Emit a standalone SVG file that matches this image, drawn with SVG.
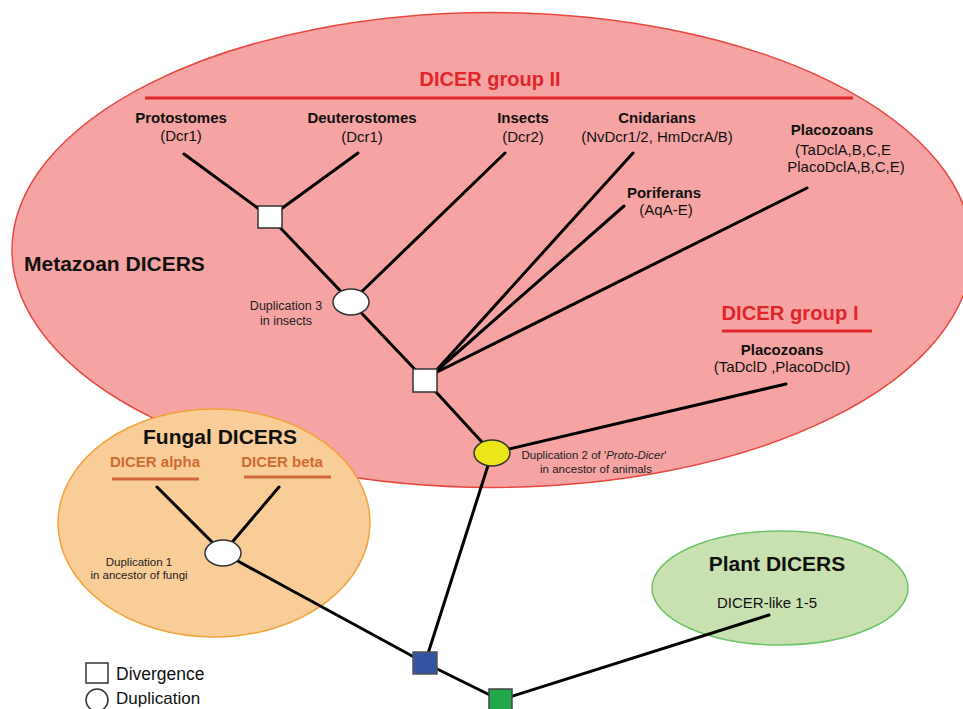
<svg xmlns="http://www.w3.org/2000/svg" width="963" height="709" viewBox="0 0 963 709">
<style>
text{font-family:"Liberation Sans",Arial,sans-serif;fill:#111}
.b{font-weight:bold}
.lbl{font-size:15px;text-anchor:middle}
.sm{font-size:11.5px;fill:#222}
.red{fill:#e0252b;font-weight:bold}
.or{fill:#cf6a34;font-weight:bold;font-size:15px;text-anchor:middle}
.edge{stroke:#000;stroke-width:3;fill:none;stroke-linecap:round}
.div{fill:#fff;stroke:#333;stroke-width:1.5}
.dup{fill:#fff;stroke:#333;stroke-width:1.5}
</style>
<rect width="963" height="709" fill="#fff"/>
<g id="metazoan-region">
<ellipse cx="492" cy="250" rx="480" ry="237.5" fill="#f5a4a3" stroke="#e8473f" stroke-width="1.5"/>
<text x="24" y="271" class="b" font-size="21">Metazoan DICERS</text>
<text x="490" y="86" class="red" font-size="20" text-anchor="middle">DICER group II</text>
<line x1="145" y1="98" x2="853" y2="98" stroke="#e0252b" stroke-width="3"/>
<text x="790" y="320" class="red" font-size="21" text-anchor="middle" textLength="137" lengthAdjust="spacingAndGlyphs">DICER group I</text>
<line x1="722" y1="331" x2="872" y2="331" stroke="#e0252b" stroke-width="3"/>
</g>
<g id="fungal-region">
<ellipse cx="214" cy="523" rx="156" ry="114" fill="#f9cd98" stroke="#f2a23a" stroke-width="1.5"/>
<text x="220" y="444" class="b" font-size="21" text-anchor="middle">Fungal DICERS</text>
<text x="155" y="467" class="or">DICER alpha</text>
<line x1="112" y1="479" x2="199" y2="479" stroke="#d0693a" stroke-width="3"/>
<text x="282" y="467" class="or">DICER beta</text>
<line x1="244" y1="477" x2="331" y2="477" stroke="#d0693a" stroke-width="3"/>
</g>
<g id="plant-region">
<ellipse cx="780" cy="588" rx="128" ry="57" fill="#c9e0b0" stroke="#6cc36a" stroke-width="1.5"/>
<text x="777" y="571" class="b" font-size="21" text-anchor="middle">Plant DICERS</text>
<text x="767" y="608" class="lbl">DICER-like 1-5</text>
</g>
<g id="leaf-labels">
<text x="181" y="123" class="lbl b">Protostomes</text>
<text x="181" y="141" class="lbl">(Dcr1)</text>
<text x="362" y="123" class="lbl b">Deuterostomes</text>
<text x="362" y="142" class="lbl">(Dcr1)</text>
<text x="523" y="123" class="lbl b">Insects</text>
<text x="523" y="142" class="lbl">(Dcr2)</text>
<text x="657" y="123" class="lbl b">Cnidarians</text>
<text x="657" y="142" class="lbl">(NvDcr1/2, HmDcrA/B)</text>
<text x="832" y="135" class="lbl b">Placozoans</text>
<text x="843" y="155" class="lbl">(TaDclA,B,C,E</text>
<text x="846" y="172" class="lbl">PlacoDclA,B,C,E)</text>
<text x="664" y="198" class="lbl b">Poriferans</text>
<text x="666" y="215" class="lbl">(AqA-E)</text>
<text x="782" y="355" class="lbl b">Placozoans</text>
<text x="782" y="372" class="lbl">(TaDclD ,PlacoDclD)</text>
</g>
<g id="connectors">
<line class="edge" x1="184" y1="154" x2="270" y2="217"/>
<line class="edge" x1="358" y1="153" x2="270" y2="217"/>
<line class="edge" x1="270" y1="217" x2="351" y2="302"/>
<line class="edge" x1="505" y1="153" x2="351" y2="302"/>
<line class="edge" x1="351" y1="302" x2="425" y2="380"/>
<line class="edge" x1="633" y1="153" x2="433" y2="374"/>
<line class="edge" x1="624" y1="206" x2="433" y2="374"/>
<line class="edge" x1="807" y1="188" x2="433" y2="374"/>
<line class="edge" x1="425" y1="380" x2="492" y2="453"/>
<line class="edge" x1="786" y1="384" x2="492" y2="453"/>
<line class="edge" x1="492" y1="453" x2="425" y2="663"/>
<line class="edge" x1="157" y1="487" x2="223" y2="553"/>
<line class="edge" x1="279" y1="487" x2="223" y2="553"/>
<line class="edge" x1="223" y1="553" x2="425" y2="663"/>
<line class="edge" x1="425" y1="663" x2="500" y2="700"/>
<line class="edge" x1="500" y1="700" x2="769" y2="615"/>
</g>
<g id="div-proto-deutero"><rect class="div" x="258" y="206" width="24" height="22"/></g>
<g id="dup3-insects">
<ellipse class="dup" cx="351" cy="302" rx="18" ry="13"/>
<text x="286" y="310" class="sm" text-anchor="middle" style="font-size:12.5px">Duplication 3</text>
<text x="286" y="325" class="sm" text-anchor="middle" style="font-size:12.5px">in insects</text>
</g>
<g id="div-metazoa"><rect class="div" x="413" y="369" width="24" height="23"/></g>
<g id="dup2-animals">
<ellipse cx="492" cy="453" rx="18" ry="13" fill="#ebe51a" stroke="#333" stroke-width="1.5"/>
<text x="594" y="459" class="sm" text-anchor="middle">Duplication 2 of '<tspan font-style="italic">Proto-Dicer</tspan>'</text>
<text x="596" y="473" class="sm" text-anchor="middle">in ancestor of animals</text>
</g>
<g id="dup1-fungi">
<ellipse class="dup" cx="223" cy="553" rx="18" ry="13"/>
<text x="139" y="566" class="sm" text-anchor="middle">Duplication 1</text>
<text x="139" y="579" class="sm" text-anchor="middle">in ancestor of fungi</text>
</g>
<g id="div-blue"><rect x="413" y="652" width="24" height="22" fill="#3553a5" stroke="#555" stroke-width="1.5"/></g>
<g id="div-green"><rect x="489" y="689" width="23" height="24" fill="#21a84a" stroke="#444" stroke-width="1.5"/></g>
<g id="legend">
<rect x="86" y="663" width="22" height="20" fill="#fff" stroke="#333" stroke-width="1.5"/>
<text x="116" y="680" font-size="17.5" fill="#222">Divergence</text>
<circle cx="97" cy="700" r="11" fill="#fff" stroke="#333" stroke-width="1.5"/>
<text x="116" y="704" font-size="17" fill="#222">Duplication</text>
</g>
</svg>
